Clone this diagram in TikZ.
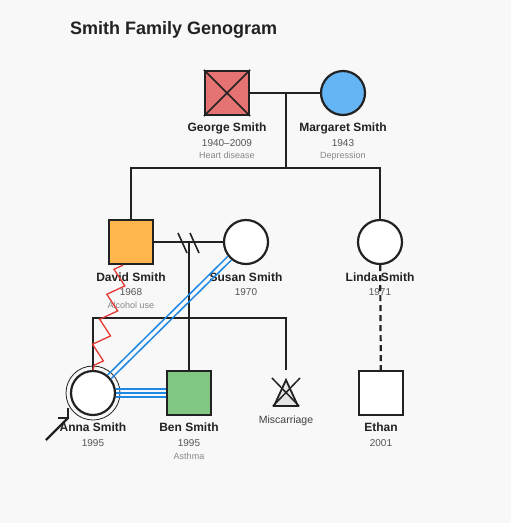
\documentclass[tikz,border=0pt]{standalone}
\usepackage{fontspec}
\setmainfont{Liberation Sans}
\usepackage{xcolor}
\usepackage{tikz}
\usetikzlibrary{positioning}
\usetikzlibrary{decorations.pathmorphing}
\definecolor{bgcol}{HTML}{F8F8F8}
\definecolor{ink}{HTML}{222222}
\definecolor{yrgray}{HTML}{555555}
\definecolor{notegray}{HTML}{888888}
\definecolor{deadred}{HTML}{E57373}
\definecolor{deprblue}{HTML}{64B5F6}
\definecolor{alcorange}{HTML}{FFB74D}
\definecolor{asthgreen}{HTML}{81C784}
\definecolor{bondblue}{HTML}{1E88E5}
\definecolor{abusered}{HTML}{E53935}

\begin{document}
\begin{tikzpicture}[x=1pt,y=-1pt,
  male/.style={draw=ink, line width=2.2pt, minimum size=44pt, inner sep=0pt, fill=white},
  female/.style={circle, draw=ink, line width=2.2pt, minimum size=44pt, inner sep=0pt, fill=white},
  rel/.style={draw=ink, line width=2.2pt},
  pname/.style={font=\fontsize{12}{14}\selectfont\bfseries, text=ink, inner sep=0pt, anchor=base},
  pyear/.style={font=\fontsize{10}{12}\selectfont, text=yrgray, inner sep=0pt, anchor=base},
  pnote/.style={font=\fontsize{9}{11}\selectfont, text=notegray, inner sep=0pt, anchor=base},
  bond/.style={draw=bondblue, line width=1.5pt}]
  \fill[bgcol] (0,0) rectangle (511,523);
  \useasboundingbox (0,0) rectangle (511,523);

  \node[font=\fontsize{18}{20}\selectfont\bfseries, text=ink, inner sep=0pt, anchor=base west] (title) at (70,34) {Smith Family Genogram};

  % people
  \node[male, fill=deadred] (george) at (227,93) {};
  \draw[ink, line width=1.5pt] (george.north west) -- (george.south east) (george.north east) -- (george.south west);
  \node[female, fill=deprblue] (margaret) at (343,93) {};
  \node[male, fill=alcorange] (david) at (131,242) {};
  \node[female] (susan) at (246,242) {};
  \node[female] (linda) at (380,242) {};
  \node[female] (anna) at (93,393) {};
  \draw[ink, line width=0.8pt] (anna) circle (27);
  \node[male, fill=asthgreen] (ben) at (189,393) {};
  \node[minimum size=46pt, inner sep=0pt] (misc) at (286,393) {};
  \node[male] (ethan) at (381,393) {};

  % miscarriage symbol
  \filldraw[fill=black!10, draw=ink, line width=1.8pt, line join=miter] (286,380) -- (298,406) -- (274,406) -- cycle;
  \draw[ink, line width=1.5pt] (272,378) -- (299,406) (300,378) -- (273,406);

  % labels
  \node[pname] (gname) at (227,131) {George Smith};
  \node[pyear] (gyear) at (227,146) {1940–2009};
  \node[pnote] (gnote) at (227,158) {Heart disease};
  \node[pname] (mname) at (343,131) {Margaret Smith};
  \node[pyear] (myear) at (343,146) {1943};
  \node[pnote] (mnote) at (343,158) {Depression};
  \node[pname] (dname) at (131,281) {David Smith};
  \node[pyear] (dyear) at (131,295) {1968};
  \node[pnote] (dnote) at (131,308) {Alcohol use};
  \node[pname] (sname) at (246,281) {Susan Smith};
  \node[pyear] (syear) at (246,295) {1970};
  \node[pname] (lname) at (380,281) {Linda Smith};
  \node[pyear] (lyear) at (380,295) {1971};
  \node[pname] (aname) at (93,431) {Anna Smith};
  \node[pyear] (ayear) at (93,446) {1995};
  \node[pname] (bname) at (189,431) {Ben Smith};
  \node[pyear] (byear) at (189,446) {1995};
  \node[pnote] (bnote) at (189,459) {Asthma};
  \node[font=\fontsize{10.5}{12}\selectfont, text=black!75, inner sep=0pt, anchor=base] (mlabel) at (286,423) {Miscarriage};
  \node[pname] (ename) at (381,431) {Ethan};
  \node[pyear] (eyear) at (381,446) {2001};

  % family lines
  \coordinate (gm) at (286,93);
  \coordinate (sibs) at (286,168);
  \coordinate (ds) at (189,242);
  \coordinate (kids) at (189,318);
  \draw[rel] (george) -- (margaret);
  \draw[rel] (gm) -- (sibs);
  \draw[rel] (david) |- (sibs) -| (linda);
  \draw[rel] (david) -- (susan);
  \draw[rel, line width=1.6pt] ([shift={(-11,-9)}]ds) -- ++(9,20) ([shift={(1,-9)}]ds) -- ++(9,20);
  \draw[rel] (ds) -- (kids);
  \draw[rel] (anna) |- (kids) -| (misc);
  \draw[rel] (kids) -- (ben);
  \draw[rel, dash pattern=on 6pt off 4pt] (linda) -- (ethan);

  % emotional ties
  \draw[abusered, line width=1.3pt, decorate, decoration={zigzag, segment length=26pt, amplitude=-7.5pt}] ([xshift=-8pt]david.south) -- (anna.north);
  \draw[bond, transform canvas={xshift=1.8pt, yshift=-1.8pt}] (susan) -- (anna);
  \draw[bond, transform canvas={xshift=-1.8pt, yshift=1.8pt}] (susan) -- (anna);
  \draw[bond] (anna) -- (ben);
  \draw[bond, transform canvas={yshift=4pt}] (anna) -- (ben);
  \draw[bond, transform canvas={yshift=-4pt}] (anna) -- (ben);

  % index person
  \coordinate (ptip) at (68,418);
  \draw[rel] (46,440) -- (ptip);
  \draw[rel] (58,418) -- (ptip) -- (68,408);
\end{tikzpicture}
\end{document}
